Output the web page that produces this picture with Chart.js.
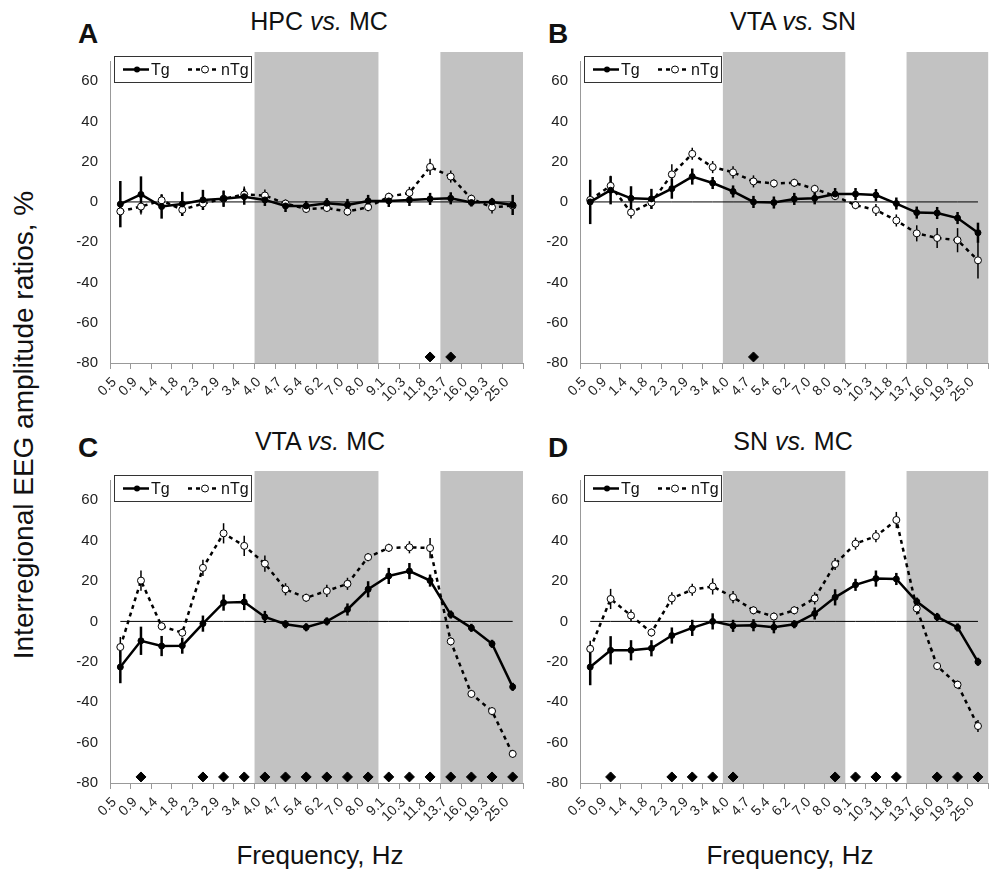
<!DOCTYPE html>
<html>
<head>
<meta charset="utf-8">
<script src="https://cdn.jsdelivr.net/npm/chart.js@4.4.1/dist/chart.umd.min.js"></script>
<style>
  body { margin: 0; background: #fff; width: 995px; height: 877px; position: relative; overflow: hidden;
         font-family: "Liberation Sans", Arial, sans-serif; color: #111; }
  canvas { position: absolute; }
  .title { position: absolute; font-size: 25px; white-space: nowrap; transform: translateX(-50%); }
  .letter { position: absolute; font-size: 28px; font-weight: bold; }
  .axis { position: absolute; font-size: 26px; white-space: nowrap; transform: translateX(-50%); }
  #ytitle { position: absolute; left: 24px; top: 425px; font-size: 28px; white-space: nowrap;
            transform: translate(-50%, -50%) rotate(-90deg); }
</style>
</head>
<body>

<div class="letter" style="left:78px; top:18px">A</div>
<div class="letter" style="left:548px; top:18px">B</div>
<div class="letter" style="left:78px; top:432px">C</div>
<div class="letter" style="left:548px; top:432px">D</div>

<div class="title" style="left:319px; top:7px">HPC <i>vs.</i> MC</div>
<div class="title" style="left:793px; top:7px">VTA <i>vs.</i> SN</div>
<div class="title" style="left:320px; top:427px">VTA <i>vs.</i> MC</div>
<div class="title" style="left:793px; top:427px">SN <i>vs.</i> MC</div>

<div id="ytitle">Interregional EEG amplitude ratios, %</div>
<div class="axis" style="left:320px; top:840px">Frequency, Hz</div>
<div class="axis" style="left:790px; top:840px">Frequency, Hz</div>

<canvas id="chartA" width="470" height="380" style="left:60px; top:40px"></canvas>
<canvas id="chartB" width="465" height="380" style="left:530px; top:40px"></canvas>
<canvas id="chartC" width="470" height="380" style="left:60px; top:459px"></canvas>
<canvas id="chartD" width="465" height="380" style="left:530px; top:459px"></canvas>

<script>
const freqLabels = ['0.5','0.9','1.4','1.8','2.3','2.9','3.4','4.0','4.7','5.4',
                    '6.2','7.0','8.0','9.1','10.3','11.8','13.7','16.0','19.3','25.0'];

// shaded frequency bands (first and last bin index)
const shadeBands = [[7, 12], [16, 19]];

// A: HPC vs. MC
const tgA     = [-1.1, 3.7, -2.3, -1, 1, 1.6, 2.6, 1, -2, -2, -0.6, -1.5, 0.5, 0.5, 1, 1.5, 1.8, -0.3, 0, -1.5];
const tgErrA  = [11.5, 9, 6, 6, 5, 4, 4, 3, 3, 2.5, 2.5, 3, 3, 3, 3, 3, 3, 2, 2, 5];
const ntgA    = [-4.7, -2.3, 0.8, -3.9, -0.8, 1.6, 3.7, 3.2, -0.8, -3.5, -3, -4.8, -2.6, 2.6, 4.5, 17.4, 12.6, 1.6, -2.7, -1.8];
const ntgErrA = [3, 4, 3, 3, 3, 4, 4, 3, 2, 2, 2, 2, 2, 2, 3, 4, 3, 2, 3, 2];
const sigA    = [15, 16];

// B: VTA vs. SN
const tgB     = [0, 5.8, 1.8, 1.5, 6.6, 12.6, 9.4, 5.2, 0, -0.3, 1.5, 1.8, 3.9, 3.9, 3.4, -0.8, -5.3, -5.5, -8, -15.3];
const tgErrB  = [11, 7, 6, 5, 5, 4, 3, 3, 3, 3, 3, 3, 3, 3, 3, 3, 3, 3, 3, 5];
const ntgB    = [1, 8, -5.2, -0.3, 13.7, 23.9, 17.3, 14.7, 10.2, 9.2, 9.5, 6.5, 2.9, -1.6, -4, -9.2, -15.6, -17.9, -19, -29];
const ntgErrB = [2, 5, 3, 3, 5, 3, 3, 3, 3, 2, 2, 2, 2, 2, 3, 3, 4, 5, 6, 9];
const sigB    = [8];

// C: VTA vs. MC
const tgC     = [-22.6, -9.6, -12.2, -12, -1.1, 9.3, 9.6, 2.2, -1.4, -2.9, 0, 5.9, 15.9, 22.5, 24.9, 20.2, 3.4, -3.2, -11.1, -32.4];
const tgErrC  = [8, 7, 5, 4, 4, 4, 4, 3, 2, 2, 2, 3, 4, 4, 4, 3, 2, 2, 2, 2];
const ntgC    = [-12.7, 20.2, -2.4, -5.6, 26.5, 43.6, 37.4, 28.6, 15.9, 11.7, 15.1, 18.6, 31.8, 36.4, 36.7, 36.3, -9.9, -35.9, -44.4, -65.6];
const ntgErrC = [5, 5, 2, 2, 4, 5, 5, 4, 3, 2, 3, 3, 2, 2, 3, 5, 2, 2, 2, 2];
const sigC    = [1, 4, 5, 6, 7, 8, 9, 10, 11, 12, 13, 14, 15, 16, 17, 18, 19];

// D: SN vs. MC
const tgD     = [-22.6, -14.3, -14.3, -13.3, -7, -3.2, 0, -2.2, -1.9, -2.9, -1.4, 3.9, 11.9, 18.1, 21.2, 21, 9.8, 2.2, -3, -20];
const tgErrD  = [9, 7, 5, 4, 4, 4, 4, 3, 3, 3, 2, 3, 4, 3, 4, 3, 2, 2, 2, 2];
const ntgD    = [-13.6, 11.1, 2.9, -5.5, 11.4, 15.7, 17.3, 12, 5.5, 2.4, 5.5, 11.4, 28.4, 38.5, 42.2, 50.2, 6.4, -22.1, -31.3, -51.8];
const ntgErrD = [4, 5, 3, 2, 3, 3, 4, 3, 2, 2, 2, 3, 3, 3, 3, 4, 3, 2, 2, 3];
const sigD    = [1, 4, 5, 6, 7, 12, 13, 14, 15, 17, 18, 19];

const FONT = '"Liberation Sans", Arial, sans-serif';

const panelPlugin = {
  id: 'panel',
  beforeDraw(chart) {
    const { ctx, chartArea: a, scales: { x } } = chart;
    const step = x.getPixelForValue(1) - x.getPixelForValue(0);
    ctx.save();
    ctx.fillStyle = '#c2c2c2';
    shadeBands.forEach(([from, to]) => {
      const l = x.getPixelForValue(from) - step / 2;
      const r = Math.min(x.getPixelForValue(to) + step / 2, a.right);
      ctx.fillRect(l, a.top - 9, r - l, a.bottom - a.top + 9);
    });
    ctx.restore();
  },
  beforeDatasetsDraw(chart) {
    const { ctx, scales: { x, y } } = chart;
    ctx.save();
    ctx.strokeStyle = '#000';
    chart.data.datasets.forEach(ds => {
      if (!ds.errors) return;
      ctx.lineWidth = ds.errWidth;
      ds.data.forEach((v, i) => {
        const px = x.getPixelForValue(i);
        ctx.beginPath();
        ctx.moveTo(px, y.getPixelForValue(v + ds.errors[i]));
        ctx.lineTo(px, y.getPixelForValue(v - ds.errors[i]));
        ctx.stroke();
      });
    });
    ctx.restore();
  },
  afterDraw(chart) {
    // legend box
    const { ctx, chartArea: a } = chart;
    const left = a.left + 4, top = a.top - 5;
    ctx.save();
    ctx.fillStyle = '#fff';
    ctx.fillRect(left, top, 137, 26);
    ctx.strokeStyle = '#333';
    ctx.lineWidth = 1;
    ctx.strokeRect(left + 0.5, top + 0.5, 137, 26);
    const cy = top + 13.5;
    ctx.strokeStyle = '#000';
    ctx.lineWidth = 2.5;
    ctx.beginPath();
    ctx.moveTo(left + 9, cy); ctx.lineTo(left + 35, cy);
    ctx.stroke();
    ctx.fillStyle = '#000';
    ctx.beginPath(); ctx.arc(left + 23, cy, 3, 0, Math.PI * 2); ctx.fill();
    ctx.setLineDash([4, 4]);
    ctx.beginPath();
    ctx.moveTo(left + 74, cy); ctx.lineTo(left + 106, cy);
    ctx.stroke();
    ctx.setLineDash([]);
    ctx.fillStyle = '#fff';
    ctx.beginPath(); ctx.arc(left + 91, cy, 3.5, 0, Math.PI * 2); ctx.fill();
    ctx.lineWidth = 1;
    ctx.beginPath(); ctx.arc(left + 91, cy, 3.5, 0, Math.PI * 2); ctx.stroke();
    ctx.fillStyle = '#111';
    ctx.font = '16px ' + FONT;
    ctx.textBaseline = 'middle';
    ctx.fillText('Tg', left + 37, cy + 1);
    ctx.fillText('nTg', left + 107, cy + 1);
    ctx.restore();
  }
};

function makePanel(id, tg, tgErr, ntg, ntgErr, sig, rightPad, xHeight) {
  new Chart(document.getElementById(id), {
    type: 'line',
    data: {
      labels: freqLabels,
      datasets: [
        { label: 'Tg', data: tg, errors: tgErr, errWidth: 2.5,
          borderColor: '#000', borderWidth: 2.5,
          pointRadius: 3, pointBackgroundColor: '#000', pointBorderColor: '#000', pointBorderWidth: 1 },
        { label: 'nTg', data: ntg, errors: ntgErr, errWidth: 1.5,
          borderColor: '#000', borderWidth: 2.5, borderDash: [4, 4],
          pointRadius: 3.5, pointBackgroundColor: '#fff', pointBorderColor: '#000', pointBorderWidth: 1 },
        { label: 'sig', data: freqLabels.map((_, i) => sig.includes(i) ? -77 : null),
          showLine: false, pointStyle: 'rectRot', pointRadius: 5,
          pointBackgroundColor: '#000', pointBorderColor: '#000' },
        { label: 'zero', data: freqLabels.map(() => 0),
          borderColor: '#000', borderWidth: 1, pointRadius: 0 }
      ]
    },
    options: {
      responsive: false,
      animation: false,
      layout: { padding: { top: 13, right: rightPad, left: 0, bottom: 0 } },
      plugins: { legend: { display: false }, tooltip: { enabled: false } },
      scales: {
        x: {
          offset: true,
          grid: { offset: true, drawOnChartArea: false, drawTicks: true, tickLength: 6, color: '#999' },
          border: { color: '#999' },
          ticks: { autoSkip: false, minRotation: 45, maxRotation: 45, padding: 5, labelOffset: -6,
                   font: { size: 14, family: FONT }, color: '#222' },
          afterFit: s => { s.height = xHeight; }
        },
        y: {
          min: -80, max: 70,
          grid: { drawOnChartArea: false, drawTicks: false, color: '#999' },
          border: { color: '#999' },
          ticks: { stepSize: 20, includeBounds: false, padding: 12,
                   font: { size: 15, family: FONT }, color: '#222' },
          afterFit: s => { s.width = 50; }
        }
      }
    },
    plugins: [panelPlugin]
  });
}

makePanel('chartA', tgA, tgErrA, ntgA, ntgErrA, sigA, 7, 57);
makePanel('chartB', tgB, tgErrB, ntgB, ntgErrB, sigB, 1, 57);
makePanel('chartC', tgC, tgErrC, ntgC, ntgErrC, sigC, 7, 56);
makePanel('chartD', tgD, tgErrD, ntgD, ntgErrD, sigD, 1, 56);
</script>
</body>
</html>
